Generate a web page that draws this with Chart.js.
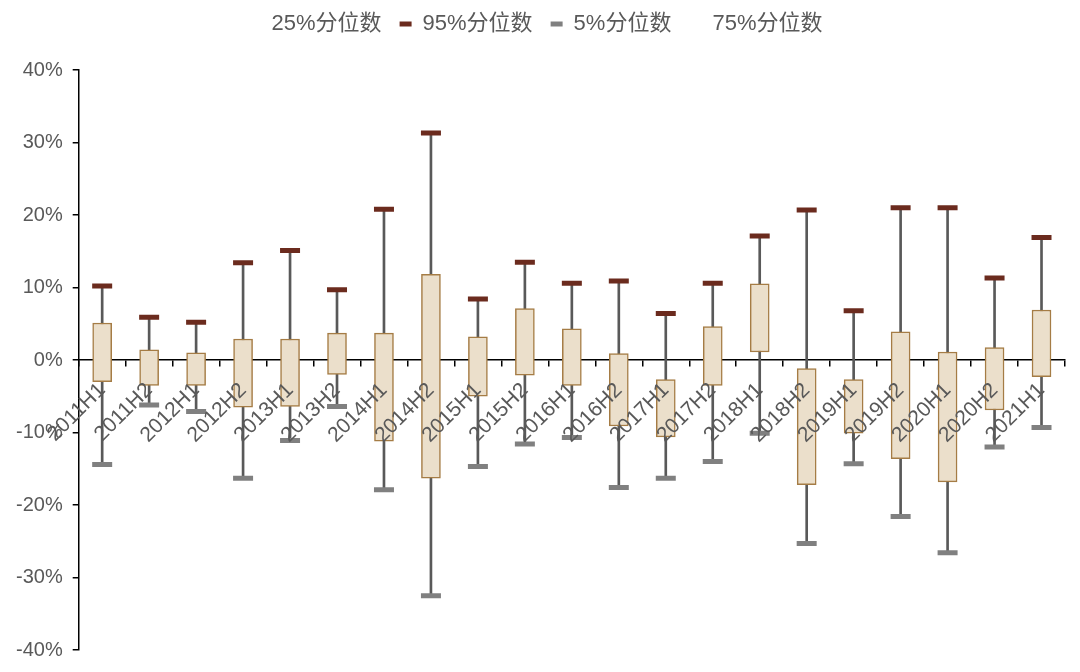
<!DOCTYPE html>
<html>
<head>
<meta charset="utf-8">
<script src="https://cdn.jsdelivr.net/npm/chart.js@4.4.1/dist/chart.umd.min.js"></script>
<style>
  html, body { margin: 0; padding: 0; background: #ffffff; }
  #wrap { width: 1080px; height: 672px; }
</style>
</head>
<body>
<div id="wrap"><canvas id="c" width="1080" height="672"></canvas></div>
<script>
const categories = ['2011H1','2011H2','2012H1','2012H2','2013H1','2013H2','2014H1','2014H2','2015H1','2015H2','2016H1','2016H2','2017H1','2017H2','2018H1','2018H2','2019H1','2019H2','2020H1','2020H2','2021H1'];
const p95 = [10.2, 5.9, 5.2, 13.4, 15.1, 9.7, 20.8, 31.3, 8.4, 13.5, 10.6, 10.9, 6.4, 10.6, 17.1, 20.7, 6.8, 21.0, 21.0, 11.3, 16.9];
const p75 = [5.1, 1.4, 1.0, 2.9, 2.9, 3.7, 3.7, 11.8, 3.2, 7.1, 4.3, 0.9, -2.7, 4.6, 10.5, -1.2, -2.7, 3.9, 1.1, 1.7, 6.9];
const p25 = [-3.0, -3.5, -3.5, -6.5, -6.4, -2.0, -11.2, -16.3, -5.0, -2.1, -3.5, -9.1, -10.6, -3.5, 1.1, -17.2, -10.1, -13.6, -16.8, -6.9, -2.3];
const p5  = [-14.4, -6.2, -7.1, -16.3, -11.1, -6.4, -17.9, -32.5, -14.7, -11.6, -10.7, -17.6, -16.3, -14.0, -10.1, -25.3, -14.3, -21.6, -26.6, -12.0, -9.3];
const yTicks = [-40, -30, -20, -10, 0, 10, 20, 30, 40];
const legendNames = ['25%分位数', '95%分位数', '5%分位数', '75%分位数'];

const FONT = "'Liberation Sans', Arial, 'Noto Sans CJK SC', sans-serif";
const TXT = '#595959';
const C95 = '#6B2B1E';
const C5 = '#808080';

const boxData = p25.map((v, i) => [v, p75[i]]);
const whiskerData = p5.map((v, i) => [v, p95[i]]);

const legendGap = {
  id: 'legendGap',
  beforeInit(chart) {
    const orig = chart.legend.fit;
    chart.legend.fit = function () {
      orig.call(this);
      this.height += 25;
    };
  }
};

new Chart(document.getElementById('c'), {
  data: {
    labels: categories,
    datasets: [
      { type: 'line', label: legendNames[1], data: p95, showLine: false, pointStyle: 'line',
        pointRadius: 10, pointHoverRadius: 10, pointBorderWidth: 5, pointHoverBorderWidth: 5,
        borderColor: C95, backgroundColor: C95, order: 1 },
      { type: 'line', label: legendNames[2], data: p5, showLine: false, pointStyle: 'line',
        pointRadius: 10, pointHoverRadius: 10, pointBorderWidth: 5, pointHoverBorderWidth: 5,
        borderColor: C5, backgroundColor: C5, order: 1 },
      { type: 'bar', label: 'box', data: boxData, grouped: false, barThickness: 19,
        backgroundColor: '#EBDFCB', borderColor: '#A57C45', borderWidth: 1.5, borderSkipped: false, order: 2 },
      { type: 'bar', label: 'whisker', data: whiskerData, grouped: false, barThickness: 2,
        backgroundColor: '#595959', borderWidth: 0, order: 3 }
    ]
  },
  plugins: [legendGap],
  options: {
    responsive: false,
    animation: false,
    layout: { padding: { left: 6, right: 15, top: -5, bottom: 22 } },
    plugins: {
      tooltip: { enabled: false },
      legend: {
        position: 'top',
        onClick: null,
        labels: {
          font: { family: FONT, size: 22 },
          color: TXT,
          boxWidth: 12,
          boxHeight: 5,
          padding: 18,
          generateLabels: () => [
            { text: legendNames[0], fillStyle: 'rgba(0,0,0,0)', strokeStyle: 'rgba(0,0,0,0)', lineWidth: 0, fontColor: TXT },
            { text: legendNames[1], fillStyle: C95, strokeStyle: C95, lineWidth: 0, fontColor: TXT },
            { text: legendNames[2], fillStyle: C5, strokeStyle: C5, lineWidth: 0, fontColor: TXT },
            { text: legendNames[3], fillStyle: 'rgba(0,0,0,0)', strokeStyle: 'rgba(0,0,0,0)', lineWidth: 0, fontColor: TXT }
          ]
        }
      }
    },
    scales: {
      x: {
        type: 'category',
        position: { y: 0 },
        offset: true,
        grid: { display: true, offset: true, drawOnChartArea: false, drawTicks: true, tickLength: 6, color: '#000', lineWidth: 1.5 },
        border: { display: true, color: '#000', width: 1.5 },
        ticks: { display: false, autoSkip: false }
      },
      x2: {
        type: 'category',
        position: { y: 0 },
        offset: true,
        grid: { display: false, drawTicks: false, tickLength: 0 },
        border: { display: false },
        ticks: { z: 1, autoSkip: false, minRotation: 45, maxRotation: 45, padding: 18, color: TXT, font: { family: FONT, size: 21 } }
      },
      y: {
        type: 'linear',
        min: -40, max: 40,
        afterBuildTicks: (axis) => { axis.ticks = yTicks.map(v => ({ value: v })); },
        grid: { display: true, drawOnChartArea: false, drawTicks: true, tickLength: 6, color: '#000', lineWidth: 1.5 },
        border: { display: true, color: '#000', width: 1.5 },
        ticks: { padding: 10, color: TXT, font: { family: FONT, size: 20 }, callback: (v) => v + '%' }
      }
    }
  }
});
</script>
</body>
</html>
